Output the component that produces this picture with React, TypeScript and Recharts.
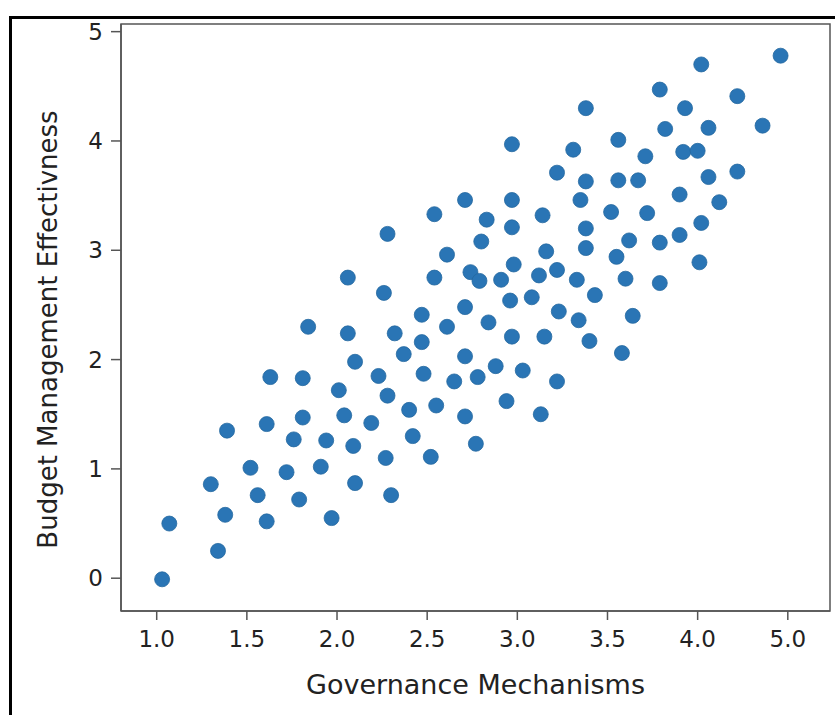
import React from 'react';
import { ScatterChart, Scatter, XAxis, YAxis, ReferenceArea } from 'recharts';

// Governance Mechanisms (x) vs Budget Management Effectivness (y)
const govX = [
    1.03, 1.07, 1.34, 1.38, 1.30, 1.39, 1.52, 1.56, 1.61, 1.61,
    1.63, 1.72, 1.76, 1.79, 1.81, 1.81, 1.84, 1.91, 1.94, 1.97,
    2.01, 2.04, 2.06, 2.09, 2.10, 2.10, 2.19, 2.23, 2.27, 2.28,
    2.30, 2.32, 2.37, 2.40, 2.42, 2.47, 2.47, 2.48, 2.52, 2.55,
    2.61, 2.65, 2.71, 2.71, 2.71, 2.78, 2.77, 2.71, 2.54, 2.28,
    2.80, 2.61, 2.06, 2.54, 2.74, 2.79, 2.26,
    4.46, 4.02, 3.79, 4.22, 3.38, 3.93, 4.36, 3.82, 4.06, 2.97,
    3.56, 3.31, 3.92, 4.00, 3.71, 3.22, 3.38, 3.56, 3.67, 4.06,
    4.22, 3.90, 4.12, 2.97, 3.35, 3.14, 2.83, 3.52, 3.72, 2.97,
    3.38, 4.02, 3.62, 3.79, 3.90, 3.38, 3.16, 3.55, 2.98, 4.01,
    2.91, 3.12, 3.22, 3.33, 3.60, 3.79, 2.96, 3.08, 3.43, 3.23,
    3.64, 2.84, 3.34, 2.97, 3.15, 3.40, 3.58, 2.88, 3.03, 3.22,
    2.94, 3.13,
];

const budgetY = [
    -0.01, 0.50, 0.25, 0.58, 0.86, 1.35, 1.01, 0.76, 0.52, 1.41,
    1.84, 0.97, 1.27, 0.72, 1.83, 1.47, 2.30, 1.02, 1.26, 0.55,
    1.72, 1.49, 2.24, 1.21, 1.98, 0.87, 1.42, 1.85, 1.10, 1.67,
    0.76, 2.24, 2.05, 1.54, 1.30, 2.41, 2.16, 1.87, 1.11, 1.58,
    2.30, 1.80, 2.48, 2.03, 1.48, 1.84, 1.23, 3.46, 3.33, 3.15,
    3.08, 2.96, 2.75, 2.75, 2.80, 2.72, 2.61,
    4.78, 4.70, 4.47, 4.41, 4.30, 4.30, 4.14, 4.11, 4.12, 3.97,
    4.01, 3.92, 3.90, 3.91, 3.86, 3.71, 3.63, 3.64, 3.64, 3.67,
    3.72, 3.51, 3.44, 3.46, 3.46, 3.32, 3.28, 3.35, 3.34, 3.21,
    3.20, 3.25, 3.09, 3.07, 3.14, 3.02, 2.99, 2.94, 2.87, 2.89,
    2.73, 2.77, 2.82, 2.73, 2.74, 2.70, 2.54, 2.57, 2.59, 2.44,
    2.40, 2.34, 2.36, 2.21, 2.21, 2.17, 2.06, 1.94, 1.90, 1.80,
    1.62, 1.50,
];

const xTicks = [1, 1.5, 2, 2.5, 3, 3.5, 4, 4.5];
const xTickLabels = ['1.0', '1.5', '2.0', '2.5', '3.0', '3.5', '4.0', '5.0'];
const yTicks = [0, 1, 2, 3, 4, 5];

const points = govX.map((x, i) => ({ x, y: budgetY[i] }));

const X_DOMAIN: [number, number] = [0.802, 4.734];
const Y_DOMAIN: [number, number] = [-0.3, 5.07];
const FONT = '"DejaVu Sans", sans-serif';

const Dot = (props: any) => (
    <circle cx={props.cx} cy={props.cy} r={7.5} fill="#2a75b5" stroke="#25689f" strokeWidth={0.8} />
);

const YLabel = ({ viewBox }: any) => {
    const cx = 48;
    const cy = viewBox.y + viewBox.height / 2 + 12;
    return (
        <text
            x={cx}
            y={cy}
            transform={`rotate(-90, ${cx}, ${cy})`}
            textAnchor="middle"
            dominantBaseline="central"
            fontFamily={FONT}
            fontSize={26}
            fill="#222"
        >
            Budget Management Effectivness
        </text>
    );
};

export default function App() {
    return (
        <div style={{ position: 'absolute', left: 0, top: 0, width: 835, height: 715, background: '#fff' }}>
            <div
                style={{
                    position: 'absolute',
                    left: 9,
                    top: 16,
                    width: 835 - 9,
                    height: 715 - 16,
                    borderTop: '3px solid #000',
                    borderLeft: '3px solid #000',
                    boxSizing: 'border-box',
                }}
            />
            <div style={{ position: 'absolute', left: 0, top: 0 }}>
                <ScatterChart width={835} height={715} margin={{ top: 24, right: 5, bottom: 0, left: 0 }}>
                    <XAxis
                        type="number"
                        dataKey="x"
                        domain={X_DOMAIN}
                        allowDataOverflow
                        ticks={xTicks}
                        tickFormatter={(v: number) => xTickLabels[xTicks.indexOf(v)] ?? String(v)}
                        height={104}
                        tickSize={9}
                        tickMargin={11}
                        stroke="#555"
                        strokeWidth={1.5}
                        tick={{ fill: '#222', fontSize: 23, fontFamily: FONT }}
                        label={{
                            value: 'Governance Mechanisms',
                            position: 'insideBottom',
                            offset: 21,
                            style: { fill: '#222', fontSize: 27, fontFamily: FONT },
                        }}
                    />
                    <YAxis
                        type="number"
                        dataKey="y"
                        domain={Y_DOMAIN}
                        allowDataOverflow
                        ticks={yTicks}
                        width={121}
                        tickSize={10}
                        tickMargin={8}
                        stroke="#555"
                        strokeWidth={1.5}
                        tick={{ fill: '#222', fontSize: 23, fontFamily: FONT }}
                        label={<YLabel />}
                    />
                    <ReferenceArea
                        x1={X_DOMAIN[0]}
                        x2={X_DOMAIN[1]}
                        y1={Y_DOMAIN[0]}
                        y2={Y_DOMAIN[1]}
                        fill="none"
                        stroke="#555"
                        strokeWidth={1.5}
                    />
                    <Scatter data={points} shape={Dot} isAnimationActive={false} />
                </ScatterChart>
            </div>
        </div>
    );
}
